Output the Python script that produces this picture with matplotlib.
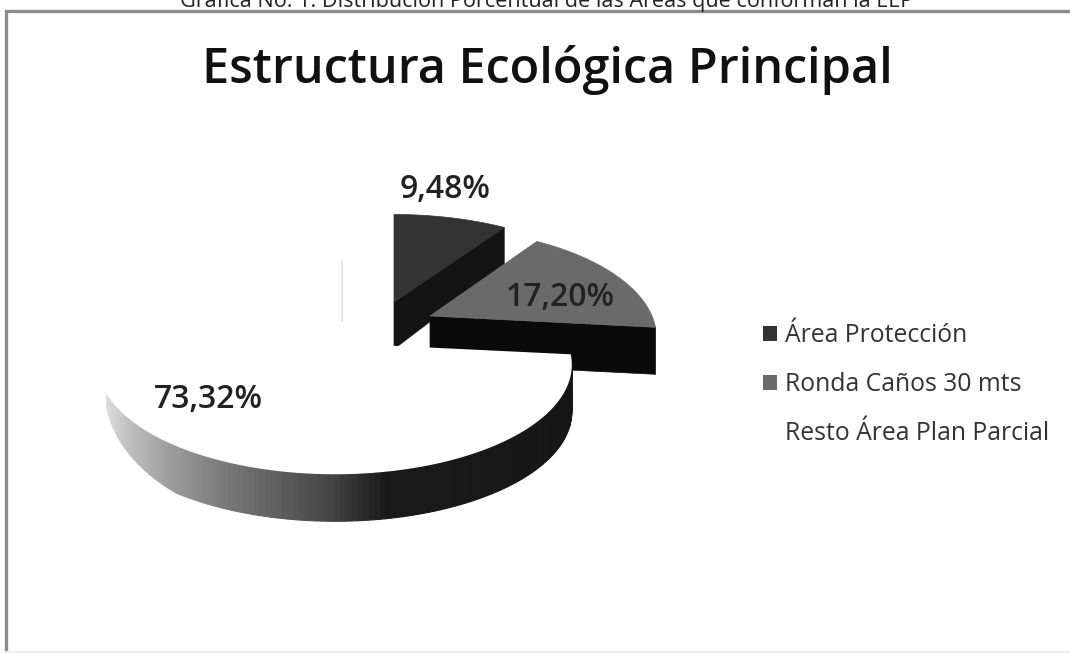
import numpy as np
import matplotlib
matplotlib.use("Agg")
import matplotlib.pyplot as plt
from matplotlib.patches import Patch, Polygon

plt.rcParams["font.family"] = ["Open Sans", "DejaVu Sans"]

caption = "Gráfica No. 1. Distribución Porcentual de las Áreas que conforman la EEP"
title = "Estructura Ecológica Principal"
categories = ["Área Protección", "Ronda Caños 30 mts", "Resto Área Plan Parcial"]
shares = [9.48, 17.20, 73.32]
top_colors = ["#333333", "#6a6a6a", "#ffffff"]

# screen position of each exploded slice's tip, its width, and where its label sits
tips = [(394, 302), (430, 316), (335, 343)]
slice_rx = [229, 222, 232]
label_pos = [(445, 190), (560, 298), (208, 399)]

# tilted pie projection, in pixels
RY = 105
PERSP = 0.2
DEPTH = 47


def project(tip, theta, rx):
    # theta runs clockwise from 12 o'clock
    x, y = np.sin(theta), np.cos(theta)
    s = 1 + PERSP * y
    return tip[0] + rx * x / s, tip[1] - RY * y / s


def rim(tip, start, end, rx, n=80):
    px, py = project(tip, np.linspace(start, end, n), rx)
    return np.column_stack([px, py])


fig = plt.figure(figsize=(10.7, 6.53), dpi=100)
ax = fig.add_axes([0, 0, 1, 1])
ax.set_xlim(0, 1070)
ax.set_ylim(653, 0)
ax.axis("off")

edges = np.radians(np.concatenate([[0], np.cumsum(shares)]) * 3.6)

# frame of the pasted chart
ax.plot([6, 6, 1070], [653, 11, 11], color="#8c8c8c", lw=2.4, solid_joinstyle="miter")
ax.plot([6, 1070], [652, 652], color="#eeeeee", lw=1.5)
ax.text(547, -1, caption, ha="center", va="center", fontsize=15.6, color="#222222")
ax.text(547, 70, title, ha="center", va="center", fontsize=35, fontweight="semibold",
        color="#111111")

# area protection slice, with the radial wall at its right side
tip = tips[0]
end_pt = project(tip, edges[1], slice_rx[0])
wall = [tip, end_pt, (end_pt[0], end_pt[1] + 38), (tip[0], tip[1] + DEPTH)]
ax.add_patch(Polygon(wall, closed=True, fc="#141414", ec="#141414", lw=0.5))
face = np.vstack([[tip], rim(tip, edges[0], edges[1], slice_rx[0])])
ax.add_patch(Polygon(face, closed=True, fc=top_colors[0], ec=top_colors[0], lw=0.5))

# ronda slice, the wall shows along its lower edge
tip = tips[1]
end_pt = project(tip, edges[2], slice_rx[1])
wall = [tip, end_pt, (end_pt[0], end_pt[1] + DEPTH), (tip[0], tip[1] + DEPTH)]
ax.add_patch(Polygon(wall, closed=True, fc="#0a0a0a", ec="#0a0a0a", lw=0.5))
face = np.vstack([[tip], rim(tip, edges[1], edges[2], slice_rx[1])])
ax.add_patch(Polygon(face, closed=True, fc=top_colors[1], ec=top_colors[1], lw=0.5))

# outer wall of the big slice, shaded in thin strips from black to pale grey
tip = tips[2]
rx = slice_rx[2]
wall_end = 245
shade_deg = [96, 170, 182, 200, 222, wall_end]
shade_val = [0.08, 0.10, 0.28, 0.45, 0.67, 0.88]
strips = np.radians(np.linspace(96, wall_end, 130))
for a, b in zip(strips[:-1], strips[1:]):
    mid = np.degrees((a + b) / 2)
    grey = np.interp(mid, shade_deg, shade_val)
    # the wall narrows to a point at its far left end
    da = min(1, (wall_end - np.degrees(a)) / 30) ** 0.4 * DEPTH
    db = min(1, (wall_end - np.degrees(b)) / 30) ** 0.4 * DEPTH
    pa, pb = project(tip, a, rx), project(tip, b, rx)
    quad = [pa, pb, (pb[0], pb[1] + db), (pa[0], pa[1] + da)]
    ax.add_patch(Polygon(quad, closed=True, fc=str(grey), ec=str(grey), lw=0.8))

face = np.vstack([[tip], rim(tip, edges[2], edges[3], rx, 200)])
ax.add_patch(Polygon(face, closed=True, fc=top_colors[2], ec="none"))
top_pt = project(tip, edges[3], rx)
ax.plot([top_pt[0] + 7, top_pt[0] + 7], [top_pt[1] + 4, tip[1] - 22], color="#e4e4e4", lw=1.2)

# value labels come straight from the shares
for value, (lx, ly) in zip(shares, label_pos):
    ax.text(lx, ly, f"{value:.2f}%".replace(".", ","), ha="center", va="center",
            fontsize=23, fontweight="semibold", color="#222222")

handles = [Patch(fc=c, ec="none") for c in top_colors]
ax.legend(handles, categories, loc="upper left", bbox_to_anchor=(763 / 1070, 1 - 323 / 653),
          frameon=False, fontsize=17.8, labelcolor="#333333", handlelength=0.56,
          handleheight=0.56, handletextpad=0.32, labelspacing=0.98, borderpad=0, borderaxespad=0)

fig.savefig("out.png", dpi=100, facecolor="white")
